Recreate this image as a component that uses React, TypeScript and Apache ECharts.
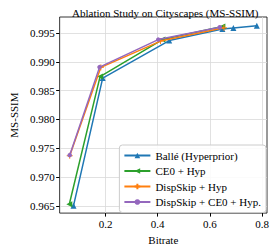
import React, { useEffect, useRef } from "react";
import * as echarts from "echarts";

const seriesNames = ["Ballé (Hyperprior)", "CE0 + Hyp", "DispSkip + Hyp", "DispSkip + CE0 + Hyp."];
const colors = ["#1f77b4", "#2ca02c", "#ff7f0e", "#9467bd"];

const balleX = [0.077, 0.189, 0.444, 0.648, 0.69, 0.78];
const balleY = [0.965, 0.98717, 0.99369, 0.99568, 0.99585, 0.99625];
const ce0X = [0.061, 0.179, 0.418, 0.648];
const ce0Y = [0.96527, 0.98744, 0.99386, 0.99613];
const dispX = [0.0626, 0.182, 0.411, 0.654];
const dispY = [0.9737, 0.98904, 0.9936, 0.9959];
const bothX = [0.0626, 0.177, 0.402, 0.638];
const bothY = [0.9738, 0.98908, 0.99386, 0.996];

const xTicks = [0.2, 0.4, 0.6, 0.8];
const yTicks = [0.965, 0.97, 0.975, 0.98, 0.985, 0.99, 0.995];

const FONT = "Liberation Serif";

const plusPath = "path://M0,5L10,5M5,0L5,10";

export default function App() {
  const ref = useRef<HTMLDivElement>(null);
  useEffect(() => {
    const chart = echarts.init(ref.current!, null, { renderer: "svg" });
    const xs = [balleX, ce0X, dispX, bothX];
    const ys = [balleY, ce0Y, dispY, bothY];
    const symbols: any[] = ["triangle", "triangle", plusPath, "circle"];
    const rotates = [0, 90, 0, 0];
    const sizes = [6, 6, 6, 4.5];
    const series = seriesNames.map((name, i) => ({
      name,
      type: "line",
      data: xs[i].map((x, j) => [x, ys[i][j]]),
      symbol: symbols[i],
      symbolRotate: rotates[i],
      symbolSize: sizes[i],
      showSymbol: true,
      lineStyle: { color: colors[i], width: 1.5 },
      itemStyle: i === 2 ? { color: colors[i], borderColor: colors[i], borderWidth: 1 } : { color: colors[i], borderWidth: 0 },
      emphasis: { disabled: true },
      z: 2 + i,
    }));
    chart.setOption({
      animation: false,
      textStyle: { fontFamily: FONT },
      title: {
        text: "Ablation Study on Cityscapes (MS-SSIM)",
        left: 67,
        top: 2,
        textStyle: { fontFamily: FONT, fontSize: 11, fontWeight: "normal", color: "#000" },
      },
      grid: {
        left: 48,
        right: 9,
        top: 17,
        bottom: 33,
        show: true,
        borderColor: "#000",
        borderWidth: 0.8,
        backgroundColor: "transparent",
      },
      legend: {
        orient: "vertical",
        right: 10,
        top: 145,
        itemWidth: 26,
        itemHeight: 7,
        itemGap: 4.5,
        padding: [5, 5, 5, 4],
        backgroundColor: "rgba(255,255,255,0.85)",
        borderColor: "#ccc",
        borderWidth: 1,
        borderRadius: 3,
        textStyle: { fontFamily: FONT, fontSize: 11, color: "#000" },
        data: seriesNames,
      },
      xAxis: {
        type: "value",
        min: 0.024,
        max: 0.819,
        name: "Bitrate",
        nameLocation: "middle",
        nameGap: 17,
        nameTextStyle: { fontFamily: FONT, fontSize: 11, color: "#000" },
        axisLine: { show: false },
        axisTick: { show: true, length: 3.5, lineStyle: { color: "#000" }, customValues: xTicks },
        axisLabel: {
          fontFamily: FONT,
          fontSize: 11,
          color: "#000",
          margin: 5,
          customValues: xTicks,
          formatter: (v: number) => v.toFixed(1),
        },
        splitLine: { show: true, lineStyle: { color: "#d9d9d9", width: 0.8 } },
      },
      yAxis: {
        type: "value",
        min: 0.96374,
        max: 0.99778,
        name: "MS-SSIM",
        nameLocation: "middle",
        nameGap: 36,
        nameTextStyle: { fontFamily: FONT, fontSize: 11, color: "#000" },
        axisLine: { show: false },
        axisTick: { show: true, length: 3.5, lineStyle: { color: "#000" }, customValues: yTicks },
        axisLabel: {
          fontFamily: FONT,
          fontSize: 11,
          color: "#000",
          margin: 5,
          customValues: yTicks,
          formatter: (v: number) => v.toFixed(3),
        },
        splitLine: { show: true, lineStyle: { color: "#d9d9d9", width: 0.8 } },
      },
      series,
    });
    return () => chart.dispose();
  }, []);
  return <div ref={ref} style={{ width: 276, height: 250, position: "absolute", left: 0, top: 0 }} />;
}
